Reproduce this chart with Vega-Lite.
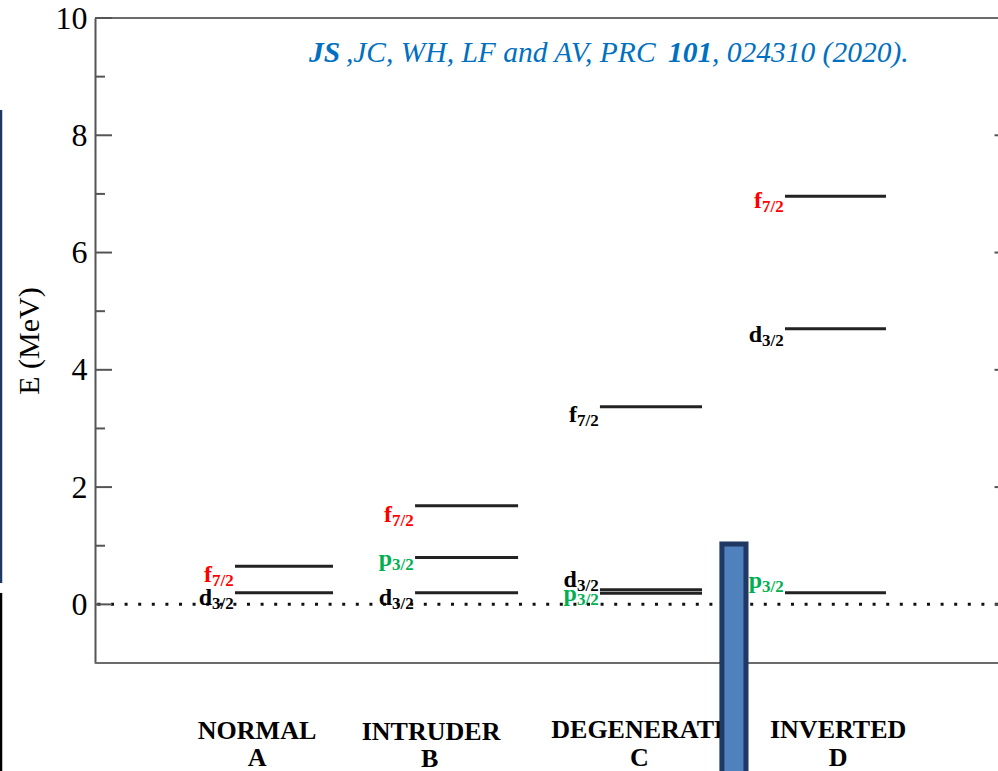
{
  "$schema": "https://vega.github.io/schema/vega-lite/v6.json",
  "autosize": "none",
  "width": 903,
  "height": 645,
  "padding": {"left": 95, "top": 18, "right": 0, "bottom": 108},
  "background": "white",
  "config": {"view": {"stroke": null}},
  "datasets": {
    "levels": [
      {"col": "A", "orb": "d3/2", "E": 0.2, "x1": 0.731, "x2": 1.264},
      {"col": "A", "orb": "f7/2", "E": 0.65, "x1": 0.731, "x2": 1.264},
      {"col": "B", "orb": "d3/2", "E": 0.2, "x1": 1.71, "x2": 2.27},
      {"col": "B", "orb": "p3/2", "E": 0.8, "x1": 1.71, "x2": 2.27},
      {"col": "B", "orb": "f7/2", "E": 1.68, "x1": 1.71, "x2": 2.27},
      {"col": "C", "orb": "p3/2", "E": 0.19, "x1": 2.715, "x2": 3.27},
      {"col": "C", "orb": "d3/2", "E": 0.25, "x1": 2.715, "x2": 3.27},
      {"col": "C", "orb": "f7/2", "E": 3.37, "x1": 2.715, "x2": 3.27},
      {"col": "D", "orb": "p3/2", "E": 0.2, "x1": 3.721, "x2": 4.27},
      {"col": "D", "orb": "d3/2", "E": 4.7, "x1": 3.721, "x2": 4.27},
      {"col": "D", "orb": "f7/2", "E": 6.96, "x1": 3.721, "x2": 4.27}
    ],
    "labels": [
      {"main": "f", "sub": "7/2", "hue": "red", "x": 0.606, "E": 0.38},
      {"main": "d", "sub": "3/2", "hue": "black", "x": 0.606, "E": -0.01},
      {"main": "f", "sub": "7/2", "hue": "red", "x": 1.585, "E": 1.4},
      {"main": "p", "sub": "3/2", "hue": "green", "x": 1.585, "E": 0.655},
      {"main": "d", "sub": "3/2", "hue": "black", "x": 1.585, "E": -0.01},
      {"main": "f", "sub": "7/2", "hue": "black", "x": 2.59, "E": 3.11},
      {"main": "d", "sub": "3/2", "hue": "black", "x": 2.59, "E": 0.3},
      {"main": "p", "sub": "3/2", "hue": "green", "x": 2.59, "E": 0.06},
      {"main": "f", "sub": "7/2", "hue": "red", "x": 3.596, "E": 6.76},
      {"main": "d", "sub": "3/2", "hue": "black", "x": 3.596, "E": 4.47},
      {"main": "p", "sub": "3/2", "hue": "green", "x": 3.596, "E": 0.28}
    ],
    "cats": [
      {"t": "NORMAL", "x": 0.851, "E": -2.29},
      {"t": "A", "x": 0.851, "E": -2.76},
      {"t": "INTRUDER", "x": 1.797, "E": -2.32},
      {"t": "B", "x": 1.79, "E": -2.78},
      {"t": "DEGENERATE", "x": 2.94, "E": -2.28},
      {"t": "C", "x": 2.93, "E": -2.75},
      {"t": "INVERTED", "x": 4.01, "E": -2.28},
      {"t": "D", "x": 4.01, "E": -2.75}
    ],
    "ticks": [
      {"E": 0, "x": -0.03, "x2": 0.0624},
      {"E": 2, "x": -0.03, "x2": 0.0624},
      {"E": 4, "x": -0.03, "x2": 0.0624},
      {"E": 6, "x": -0.03, "x2": 0.0624},
      {"E": 8, "x": -0.03, "x2": 0.0624},
      {"E": 10, "x": -0.03, "x2": 0.0624},
      {"E": 1, "x": -0.03, "x2": 0.0244},
      {"E": 3, "x": -0.03, "x2": 0.0244},
      {"E": 5, "x": -0.03, "x2": 0.0244},
      {"E": 7, "x": -0.03, "x2": 0.0244},
      {"E": 9, "x": -0.03, "x2": 0.0244},
      {"E": 0, "x": 4.86, "x2": 4.879},
      {"E": 2, "x": 4.86, "x2": 4.879},
      {"E": 4, "x": 4.86, "x2": 4.879},
      {"E": 6, "x": 4.86, "x2": 4.879},
      {"E": 8, "x": 4.86, "x2": 4.879}
    ],
    "cite": [
      {"t": "JS", "x": 1.133, "w": "bold"},
      {"t": ",JC, WH, LF and AV, PRC", "x": 1.334, "w": "normal"},
      {"t": "101", "x": 3.085, "w": "bold"},
      {"t": ", 024310 (2020).", "x": 3.324, "w": "normal"}
    ],
    "box": [{"x": 3.378, "x2": 3.509, "E": 1.03, "E2": -3.1}],
    "edges": [
      {"hue": "navy", "x": -0.541, "E": 8.43, "E2": 0.366},
      {"hue": "black", "x": -0.541, "E": 0.195, "E2": -3.0}
    ]
  },
  "layer": [
    {
      "data": {"values": [{"E": 10}, {"E": -1}]},
      "mark": {"type": "rule", "color": "#6b6b6b", "strokeWidth": 2},
      "encoding": {
        "y": {
          "field": "E", "type": "quantitative",
          "scale": {"domain": [-1, 10], "nice": false, "zero": false},
          "axis": {
            "values": [0, 2, 4, 6, 8, 10],
            "format": "d",
            "ticks": false,
            "grid": false,
            "domain": true,
            "domainColor": "#555555",
            "domainWidth": 2,
            "labelFont": "Liberation Serif",
            "labelFontSize": 32,
            "labelColor": "black",
            "labelPadding": 8,
            "labelFlush": false,
            "labelOverlap": false,
            "title": "E (MeV)",
            "titleFont": "Liberation Serif",
            "titleFontSize": 30,
            "titleFontWeight": "normal",
            "titleColor": "black",
            "titlePadding": 11
          }
        }
      }
    },
    {
      "data": {"values": [{"E": 0}]},
      "mark": {"type": "rule", "color": "#111111", "strokeWidth": 3, "strokeDash": [3, 10.6]},
      "encoding": {
        "y": {"field": "E", "type": "quantitative"}
      }
    },
    {
      "data": {"name": "ticks"},
      "mark": {"type": "rule", "color": "#555555", "strokeWidth": 2},
      "encoding": {
        "x": {"field": "x", "type": "quantitative", "scale": {"domain": [-0.03, 4.879], "nice": false, "zero": false}, "axis": null},
        "x2": {"field": "x2"},
        "y": {"field": "E", "type": "quantitative"}
      }
    },
    {
      "data": {"name": "levels"},
      "mark": {"type": "rule", "color": "#222222", "strokeWidth": 3},
      "encoding": {
        "x": {"field": "x1", "type": "quantitative", "axis": null},
        "x2": {"field": "x2"},
        "y": {"field": "E", "type": "quantitative"}
      }
    },
    {
      "data": {"name": "labels"},
      "mark": {"type": "text", "font": "Liberation Serif", "fontWeight": "bold", "fontSize": 24, "align": "right", "baseline": "alphabetic"},
      "encoding": {
        "x": {"field": "x", "type": "quantitative", "axis": null},
        "y": {"field": "E", "type": "quantitative"},
        "text": {"field": "main"},
        "color": {"field": "hue", "type": "nominal", "scale": {"domain": ["red", "green", "black", "navy"], "range": ["#ff0000", "#00b050", "#000000", "#1f3864"]}, "legend": null}
      }
    },
    {
      "data": {"name": "labels"},
      "mark": {"type": "text", "font": "Liberation Serif", "fontWeight": "bold", "fontSize": 17, "align": "left", "baseline": "alphabetic", "dy": 4},
      "encoding": {
        "x": {"field": "x", "type": "quantitative", "axis": null},
        "y": {"field": "E", "type": "quantitative"},
        "text": {"field": "sub"},
        "color": {"field": "hue", "type": "nominal", "legend": null}
      }
    },
    {
      "data": {"name": "cats"},
      "mark": {"type": "text", "font": "Liberation Serif", "fontWeight": "bold", "fontSize": 26, "align": "center", "baseline": "alphabetic", "color": "black"},
      "encoding": {
        "x": {"field": "x", "type": "quantitative", "axis": null},
        "y": {"field": "E", "type": "quantitative"},
        "text": {"field": "t"}
      }
    },
    {
      "data": {"name": "cite"},
      "transform": [{"filter": "datum.w === 'bold'"}],
      "mark": {"type": "text", "font": "Liberation Serif", "fontStyle": "italic", "fontWeight": "bold", "fontSize": 29.5, "align": "left", "baseline": "alphabetic", "color": "#0070c0"},
      "encoding": {
        "x": {"field": "x", "type": "quantitative", "axis": null},
        "y": {"datum": 9.25, "type": "quantitative"},
        "text": {"field": "t"}
      }
    },
    {
      "data": {"name": "cite"},
      "transform": [{"filter": "datum.w === 'normal'"}],
      "mark": {"type": "text", "font": "Liberation Serif", "fontStyle": "italic", "fontWeight": "normal", "fontSize": 29.5, "align": "left", "baseline": "alphabetic", "color": "#0070c0"},
      "encoding": {
        "x": {"field": "x", "type": "quantitative", "axis": null},
        "y": {"datum": 9.25, "type": "quantitative"},
        "text": {"field": "t"}
      }
    },
    {
      "data": {"name": "box"},
      "mark": {"type": "rect", "fill": "#4f81bd", "stroke": "#1f3864", "strokeWidth": 5},
      "encoding": {
        "x": {"field": "x", "type": "quantitative", "axis": null},
        "x2": {"field": "x2"},
        "y": {"field": "E", "type": "quantitative"},
        "y2": {"field": "E2"}
      }
    },
    {
      "data": {"name": "edges"},
      "mark": {"type": "rule", "strokeWidth": 2.5},
      "encoding": {
        "x": {"field": "x", "type": "quantitative", "axis": null},
        "y": {"field": "E", "type": "quantitative"},
        "y2": {"field": "E2"},
        "color": {"field": "hue", "type": "nominal", "legend": null}
      }
    }
  ]
}
